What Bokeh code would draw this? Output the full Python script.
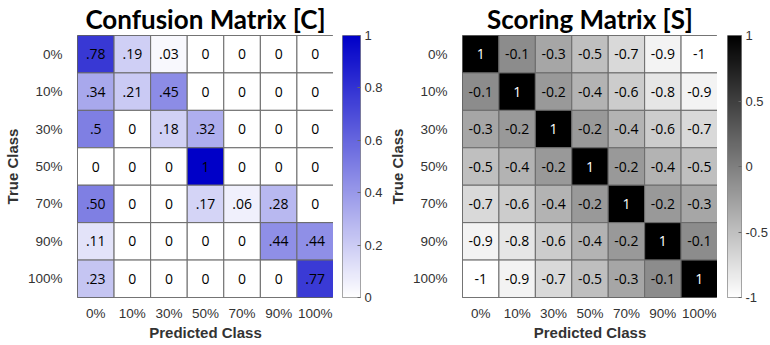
import numpy as np
from bokeh.plotting import figure
from bokeh.models import (ColumnDataSource, LinearColorMapper, FixedTicker,
                          PrintfTickFormatter, FactorRange)
from bokeh.layouts import row
from bokeh.embed import file_html
from bokeh.resources import INLINE

classes = ["0%", "10%", "30%", "50%", "70%", "90%", "100%"]

confusion_values = [
    [0.78, 0.19, 0.03, 0, 0, 0, 0],
    [0.34, 0.21, 0.45, 0, 0, 0, 0],
    [0.5, 0, 0.18, 0.32, 0, 0, 0],
    [0, 0, 0, 1, 0, 0, 0],
    [0.50, 0, 0, 0.17, 0.06, 0.28, 0],
    [0.11, 0, 0, 0, 0, 0.44, 0.44],
    [0.23, 0, 0, 0, 0, 0, 0.77],
]
confusion_labels = [
    [".78", ".19", ".03", "0", "0", "0", "0"],
    [".34", ".21", ".45", "0", "0", "0", "0"],
    [".5", "0", ".18", ".32", "0", "0", "0"],
    ["0", "0", "0", "1", "0", "0", "0"],
    [".50", "0", "0", ".17", ".06", ".28", "0"],
    [".11", "0", "0", "0", "0", ".44", ".44"],
    [".23", "0", "0", "0", "0", "0", ".77"],
]
scoring_values = [
    [1, -0.1, -0.3, -0.5, -0.7, -0.9, -1],
    [-0.1, 1, -0.2, -0.4, -0.6, -0.8, -0.9],
    [-0.3, -0.2, 1, -0.2, -0.4, -0.6, -0.7],
    [-0.5, -0.4, -0.2, 1, -0.2, -0.4, -0.5],
    [-0.7, -0.6, -0.4, -0.2, 1, -0.2, -0.3],
    [-0.9, -0.8, -0.6, -0.4, -0.2, 1, -0.1],
    [-1, -0.9, -0.7, -0.5, -0.3, -0.1, 1],
]
scoring_labels = [[f"{v:g}" for v in r] for r in scoring_values]

confusion_ticks = [0, 0.2, 0.4, 0.6, 0.8, 1]
scoring_ticks = [-1, -0.5, 0, 0.5, 1]

# palettes
t = np.linspace(0, 1, 256)
blue_palette = []
gray_palette = []
for s in t:
    w = int(round(255 * (1 - s)))
    blue_palette.append("#%02x%02x%02x" % (w, w, int(round(255 - s * 55))))
    gray_palette.append("#%02x%02x%02x" % (w, w, w))

TICK_FONT = "Liberation Sans"
TOP, BOTTOM, FH = 35, 48, 262


def make_heat(title, values, labels, mapper, text_colors, border_left, fw, title_offset):
    xs, ys, vs, ls, tc = [], [], [], [], []
    for i, rname in enumerate(classes):
        for j, cname in enumerate(classes):
            xs.append(cname)
            ys.append(rname)
            vs.append(values[i][j])
            ls.append(labels[i][j])
            tc.append(text_colors(values[i][j]))
    src = ColumnDataSource(dict(x=xs, y=ys, v=vs, label=ls, tc=tc))

    p = figure(width=border_left + fw, height=TOP + FH + BOTTOM,
               x_range=FactorRange(factors=classes),
               y_range=FactorRange(factors=list(reversed(classes))),
               output_backend="svg", toolbar_location=None,
               min_border_left=border_left, min_border_right=0,
               min_border_top=TOP, min_border_bottom=BOTTOM)
    p.rect(x="x", y="y", width=1, height=1, source=src,
           fill_color={"field": "v", "transform": mapper},
           line_color="#6a6a6a", line_width=1)
    p.text(x="x", y="y", text="label", source=src, text_color="tc",
           text_align="center", text_baseline="middle",
           text_font={"value": "Open Sans"}, text_font_size="14px")

    p.title.text = title
    p.title.align = "center"
    p.title.text_font = "Lato"
    p.title.text_font_style = "bold"
    p.title.text_font_size = "26px"
    p.title.text_color = "#000000"
    p.title.standoff = 1
    p.title.offset = title_offset

    p.grid.visible = False
    p.outline_line_color = "#555555"
    for ax in (p.xaxis[0], p.yaxis[0]):
        ax.major_tick_line_color = None
        ax.minor_tick_line_color = None
        ax.axis_line_color = None
        ax.major_label_text_font = TICK_FONT
        ax.major_label_text_font_size = "13.5px"
        ax.major_label_text_color = "#333333"
        ax.axis_label_text_font = TICK_FONT
        ax.axis_label_text_font_style = "bold"
        ax.axis_label_text_font_size = "15px"
        ax.axis_label_text_color = "#333333"
    p.xaxis.axis_label = "Predicted Class"
    p.yaxis.axis_label = "True Class"
    p.xaxis.major_label_standoff = 2
    p.yaxis.major_label_standoff = 9
    p.xaxis.axis_label_standoff = 0
    p.yaxis.axis_label_standoff = 4
    return p


def make_cbar(mapper, low, high, ticks, left_b, bar_w, right_b):
    p = figure(width=left_b + bar_w + right_b, height=TOP + FH + BOTTOM,
               x_range=(0, 1), y_range=(low, high),
               x_axis_location=None, y_axis_location="right",
               output_backend="svg", toolbar_location=None,
               min_border_left=left_b, min_border_right=right_b,
               min_border_top=TOP, min_border_bottom=BOTTOM)
    grad = np.linspace(low, high, 256).reshape(256, 1)
    p.image(image=[grad], x=0, y=low, dw=1, dh=high - low, color_mapper=mapper)
    p.grid.visible = False
    p.outline_line_color = "#8a8a8a"
    ax = p.yaxis[0]
    ax.ticker = FixedTicker(ticks=ticks)
    ax.formatter = PrintfTickFormatter(format="%g")
    ax.major_tick_in = 3
    ax.major_tick_out = 0
    ax.major_tick_line_color = "#666666"
    ax.minor_tick_line_color = None
    ax.axis_line_color = None
    ax.major_label_standoff = 4
    ax.major_label_text_font = TICK_FONT
    ax.major_label_text_font_size = "13px"
    ax.major_label_text_color = "#333333"
    return p


blue_mapper = LinearColorMapper(palette=blue_palette, low=0, high=1)
gray_mapper = LinearColorMapper(palette=gray_palette, low=-1, high=1)

left = make_heat("Confusion Matrix [C]", confusion_values, confusion_labels,
                 blue_mapper, lambda v: "#000000", 72, 261, 2)
left_cb = make_cbar(blue_mapper, 0, 1, confusion_ticks, 9, 19, 24)
right = make_heat("Scoring Matrix [S]", scoring_values, scoring_labels,
                  gray_mapper, lambda v: "#ffffff" if v > 0.5 else "#000000",
                  76, 256, 10)
right_cb = make_cbar(gray_mapper, -1, 1, scoring_ticks, 10, 17, 26)

layout = row(left, left_cb, right, right_cb, spacing=0)
open("out.html", "w").write(file_html(layout, INLINE))
